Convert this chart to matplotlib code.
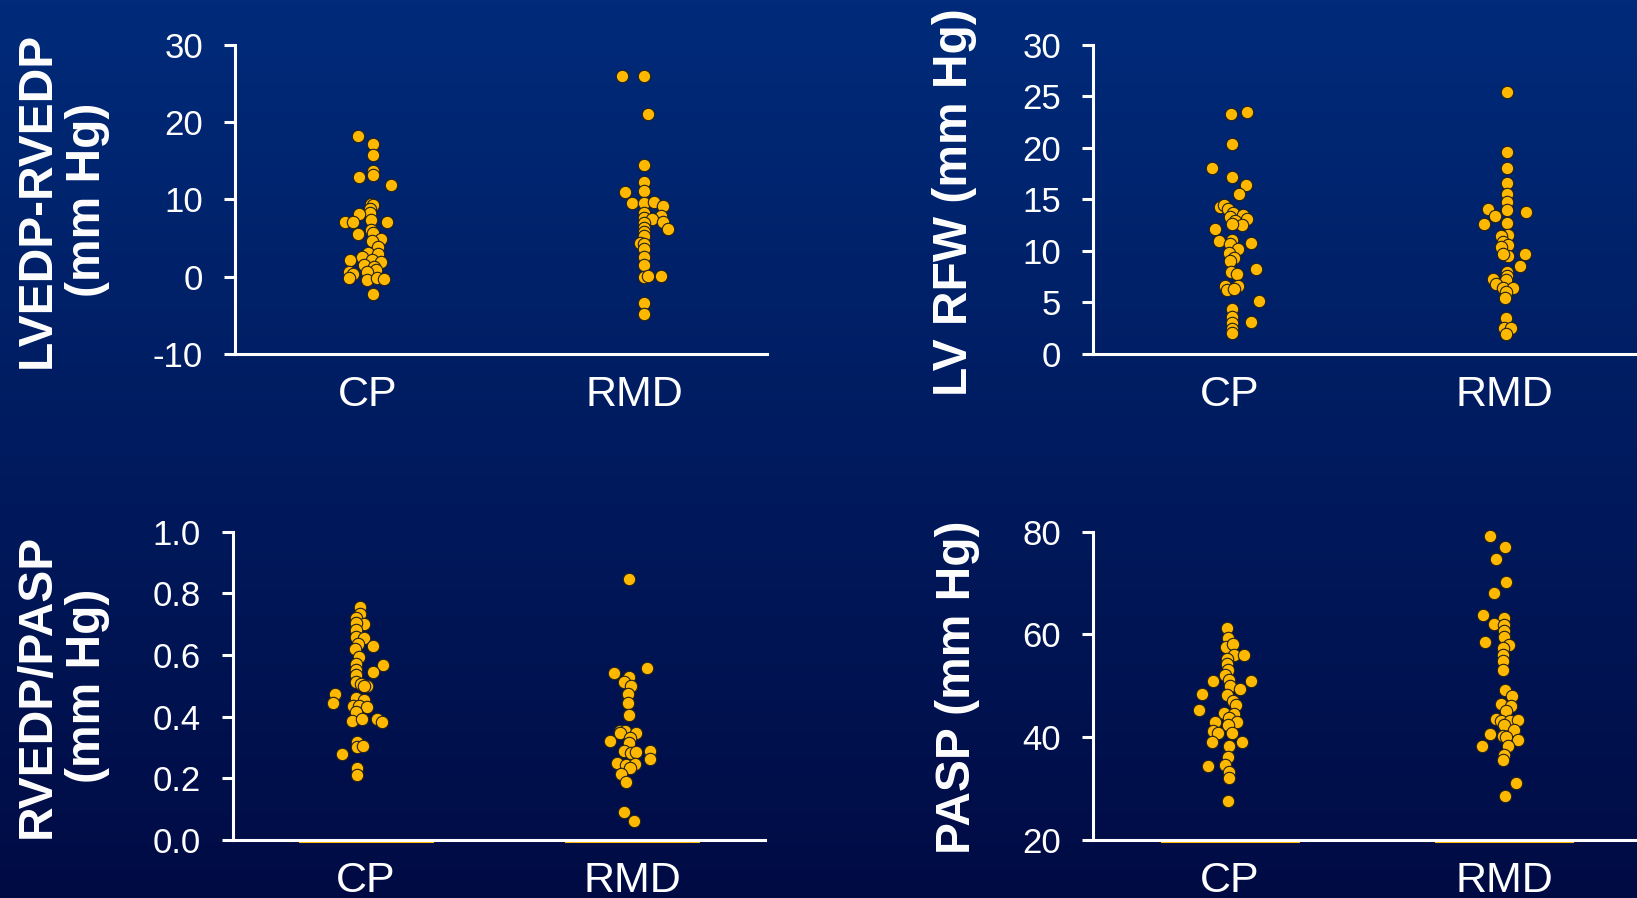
import numpy as np
import matplotlib
matplotlib.use("Agg")
import matplotlib.pyplot as plt

plt.rcParams['font.family'] = ['Liberation Sans', 'DejaVu Sans']
plt.rcParams['axes.unicode_minus'] = False

groups = ['CP', 'RMD']

# LVEDP-RVEDP (mm Hg)
diff_cp = [18.2, 17.2, 15.7, 13.7, 13.1, 12.9, 11.9, 9.4, 9.3, 8.7, 8.2, 8.1, 7.1, 7.1, 7.3, 7.1,
           6.0, 5.6, 5.5, 4.9, 4.6, 3.9, 3.1, 2.9, 2.6, 2.2, 2.2, 1.9, 1.5, 1.3, 0.9, 0.6, 0.6,
           0.3, -0.2, -0.4, -0.2, -0.3, -2.3]
diff_cp_dx = [-0.036, 0.019, 0.019, 0.019, 0.019, -0.033, 0.086, 0.011, 0.019, 0.009, 0.009,
              -0.035, -0.085, -0.058, 0.011, 0.073, 0.011, 0.018, -0.039, 0.049, 0.014, 0.036,
              0.001, 0.036, -0.024, -0.066, 0.014, 0.049, -0.016, 0.021, 0.030, -0.004, -0.073,
              -0.058, -0.070, -0.004, 0.033, 0.061, 0.019]
diff_rmd = [26.0, 25.9, 21.0, 14.4, 12.2, 11.1, 11.0, 9.5, 9.5, 9.6, 9.2, 8.2, 7.9, 7.6, 7.4,
            7.1, 6.9, 6.2, 6.3, 5.8, 5.3, 4.4, 4.2, 3.6, 2.5, 1.5, -0.1, 0.1, 0.1, -3.4, -4.8]
diff_rmd_dx = [-0.044, 0.036, 0.054, 0.036, 0.036, 0.036, -0.035, -0.009, 0.036, 0.074, 0.109,
               0.036, 0.100, 0.036, 0.066, 0.109, 0.036, 0.129, 0.036, 0.036, 0.036, 0.021,
               0.036, 0.036, 0.036, 0.036, 0.036, 0.054, 0.103, 0.036, 0.036]

# LV RFW (mm Hg)
rfw_cp = [23.3, 23.5, 20.4, 18.0, 17.2, 16.4, 15.5, 14.3, 14.5, 14.1, 13.7, 13.5, 13.1, 13.3,
          12.9, 12.5, 12.6, 12.1, 11.1, 11.0, 10.8, 10.7, 10.2, 9.8, 9.3, 9.0, 8.2, 8.0, 7.8,
          6.6, 6.6, 6.2, 6.3, 5.1, 4.4, 3.6, 3.1, 3.0, 2.4, 2.0]
rfw_cp_dx = [0.005, 0.062, 0.006, -0.067, 0.009, 0.058, 0.033, -0.036, -0.022, -0.006, 0.012,
             0.049, 0.061, 0.0, 0.018, 0.045, 0.006, -0.055, 0.006, -0.041, 0.078, 0.0, 0.028,
             -0.005, 0.015, 0.0, 0.094, 0.004, 0.024, 0.030, -0.018, -0.012, 0.015, 0.107,
             0.006, 0.006, 0.078, 0.006, 0.006, 0.006]
rfw_rmd = [25.4, 19.6, 18.0, 16.6, 15.5, 14.7, 14.0, 14.1, 13.4, 13.8, 12.6, 12.7, 11.5, 11.4,
           10.9, 10.6, 10.4, 9.5, 9.7, 9.7, 8.5, 8.0, 7.6, 7.3, 7.2, 6.8, 6.4, 6.4, 6.0, 5.4,
           3.5, 2.5, 2.5, 1.9]
rfw_rmd_dx = [0.011, 0.011, 0.011, 0.011, 0.011, 0.011, 0.011, -0.057, -0.033, 0.079, -0.072,
              0.011, 0.013, -0.011, -0.005, 0.013, -0.011, 0.013, -0.005, 0.077, 0.057, 0.011,
              0.011, -0.041, 0.007, -0.029, -0.005, 0.034, 0.007, 0.004, 0.007, -0.001, 0.026,
              0.006]

# RVEDP/PASP
ratio_cp = [0.757, 0.733, 0.719, 0.702, 0.703, 0.681, 0.659, 0.654, 0.636, 0.629, 0.619, 0.595,
            0.571, 0.568, 0.551, 0.545, 0.535, 0.514, 0.506, 0.501, 0.499, 0.474, 0.443, 0.460,
            0.454, 0.436, 0.436, 0.430, 0.414, 0.386, 0.392, 0.392, 0.384, 0.319, 0.303, 0.306,
            0.280, 0.232, 0.211]
ratio_cp_dx = [-0.021, -0.023, -0.036, -0.009, -0.036, -0.036, -0.036, -0.006, -0.030, 0.026,
               -0.041, -0.026, -0.036, 0.063, -0.036, 0.028, -0.036, -0.036, -0.020, 0.005,
               -0.008, -0.117, -0.124, -0.036, -0.006, -0.049, -0.026, 0.005, -0.036, -0.054,
               -0.016, 0.043, 0.061, -0.034, -0.033, -0.013, -0.089, -0.034, -0.034]
ratio_rmd = [0.847, 0.558, 0.543, 0.528, 0.514, 0.499, 0.474, 0.444, 0.405, 0.355, 0.352, 0.347,
             0.347, 0.322, 0.330, 0.314, 0.290, 0.282, 0.287, 0.290, 0.263, 0.249, 0.243, 0.246,
             0.232, 0.213, 0.189, 0.090, 0.062]
ratio_rmd_dx = [-0.013, 0.056, -0.066, -0.013, -0.031, -0.004, -0.015, -0.015, -0.013, -0.044,
                -0.025, -0.046, 0.016, -0.081, -0.009, -0.013, -0.031, -0.004, 0.014, 0.069,
                0.069, -0.056, -0.021, 0.013, -0.006, -0.040, -0.021, -0.030, 0.008]

# PASP (mm Hg)
pasp_cp = [61.2, 59.3, 57.6, 58.1, 56.1, 56.0, 55.3, 54.2, 53.0, 52.1, 51.2, 51.0, 50.9, 50.0,
           49.4, 48.4, 48.2, 47.1, 46.3, 45.3, 44.8, 44.5, 43.7, 43.0, 43.0, 42.4, 41.3, 40.9,
           40.8, 39.0, 39.0, 38.2, 36.2, 34.4, 34.5, 33.3, 32.0, 27.6]
pasp_cp_dx = [-0.012, -0.006, -0.015, 0.012, 0.015, 0.052, -0.010, -0.010, -0.006, -0.018,
              -0.002, -0.063, 0.078, 0.0, 0.036, -0.103, -0.010, 0.012, 0.022, -0.113, -0.021,
              0.016, -0.004, -0.055, 0.027, -0.006, -0.061, -0.043, 0.009, -0.067, 0.043,
              -0.002, -0.006, -0.082, -0.018, -0.002, -0.005, -0.006]
pasp_rmd = [79.2, 77.0, 74.7, 70.2, 68.1, 63.8, 63.2, 62.0, 61.9, 60.6, 59.5, 58.0, 58.5, 57.4,
            56.1, 54.8, 53.1, 49.1, 48.0, 46.4, 46.1, 45.2, 43.5, 43.1, 43.1, 43.4, 42.3, 41.5,
            40.7, 40.2, 40.1, 39.4, 38.2, 38.3, 36.6, 35.6, 31.0, 28.6]
pasp_rmd_dx = [-0.050, 0.004, -0.028, 0.007, -0.035, -0.075, 0.001, -0.035, 0.001, 0.001, 0.001,
               0.017, -0.068, -0.005, -0.005, -0.005, -0.002, 0.004, 0.029, -0.011, 0.026,
               0.007, -0.029, -0.011, 0.023, 0.050, -0.001, 0.035, -0.051, -0.005, 0.007, 0.050,
               -0.080, 0.016, -0.001, -0.005, 0.044, 0.004]

W, H = 1637, 898
fig = plt.figure(figsize=(W / 100, H / 100), dpi=100)

# gradient background
bg = fig.add_axes([0, 0, 1, 1], zorder=-10)
top = np.array([0, 43, 122]) / 255
bot = np.array([0, 11, 68]) / 255
t = np.linspace(0, 1, 256)[:, None]
grad = top * (1 - t) + bot * t
bg.imshow(grad[:, None, :].repeat(2, axis=1), aspect='auto', extent=[0, 1, 0, 1])
bg.axis('off')

gold = '#FFB800'


def panel(rect, cp, cp_dx, rmd, rmd_dx, ylim, yticks, fmt, baseline):
    ax = fig.add_axes(rect)
    ax.patch.set_alpha(0)
    ax.scatter(np.array(cp_dx), cp, s=80, color=gold, edgecolor='#202020',
               linewidth=0.8, zorder=3, clip_on=False)
    ax.scatter(1 + np.array(rmd_dx), rmd, s=80, color=gold, edgecolor='#202020',
               linewidth=0.8, zorder=3, clip_on=False)
    ax.set_xlim(-0.5, 1.5)
    ax.set_ylim(*ylim)
    ax.set_yticks(yticks)
    ax.set_yticklabels([fmt.format(v) for v in yticks])
    ax.set_xticks([0, 1])
    ax.set_xticklabels(groups)
    for s in ['top', 'right']:
        ax.spines[s].set_visible(False)
    for s in ['left', 'bottom']:
        ax.spines[s].set_color('white')
        ax.spines[s].set_linewidth(2.2)
    ax.tick_params(axis='y', colors='white', labelsize=25, length=8, width=2.2, pad=15)
    ax.tick_params(axis='x', colors='white', labelsize=31, length=0, pad=15)
    if baseline:
        yb = ylim[0] - 0.008 * (ylim[1] - ylim[0])
        for i in range(2):
            ax.plot([i - 0.25, i + 0.25], [yb, yb], color=gold, lw=1.5,
                    clip_on=False, zorder=1)
    return ax


panel([235 / W, 1 - 354 / H, 532 / W, 309.3 / H], diff_cp, diff_cp_dx, diff_rmd, diff_rmd_dx,
      (-10, 30), [-10, 0, 10, 20, 30], '{:.0f}', False)
panel([1093 / W, 1 - 354 / H, 548 / W, 309.3 / H], rfw_cp, rfw_cp_dx, rfw_rmd, rfw_rmd_dx,
      (0, 30), [0, 5, 10, 15, 20, 25, 30], '{:.0f}', False)
panel([233 / W, 1 - 840 / H, 532 / W, 308.3 / H], ratio_cp, ratio_cp_dx, ratio_rmd,
      ratio_rmd_dx, (0, 1.0), [0.0, 0.2, 0.4, 0.6, 0.8, 1.0], '{:.1f}', True)
panel([1093 / W, 1 - 840 / H, 548 / W, 308.3 / H], pasp_cp, pasp_cp_dx, pasp_rmd, pasp_rmd_dx,
      (20, 80), [20, 40, 60, 80], '{:.0f}', True)

lab = dict(rotation=90, ha='center', va='center', color='white', fontsize=34.5,
           fontweight='bold', multialignment='center', linespacing=1.15)
fig.text(62 / W, 1 - 200 / H, 'LVEDP-RVEDP\n(mm Hg)', **lab)
fig.text(955 / W, 1 - 202 / H, 'LV RFW (mm Hg)', **lab)
fig.text(62 / W, 1 - 686 / H, 'RVEDP/PASP\n(mm Hg)', **lab)
fig.text(958 / W, 1 - 687 / H, 'PASP (mm Hg)', **lab)

fig.savefig('out.png', dpi=100)
